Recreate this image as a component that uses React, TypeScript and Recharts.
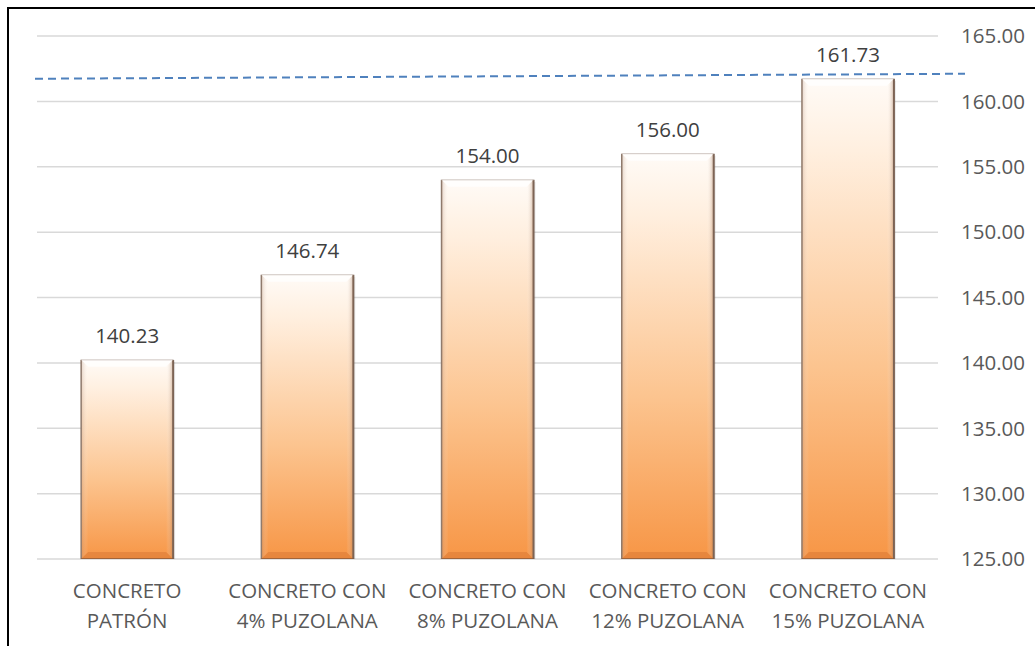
import { Bar, BarChart, CartesianGrid, LabelList, ReferenceLine, XAxis, YAxis } from "recharts";

const categories = [
  ["CONCRETO", "PATRÓN"],
  ["CONCRETO CON", "4% PUZOLANA"],
  ["CONCRETO CON", "8% PUZOLANA"],
  ["CONCRETO CON", "12% PUZOLANA"],
  ["CONCRETO CON", "15% PUZOLANA"],
];
const resistance = [140.23, 146.74, 154.0, 156.0, 161.73];
const yTicks = [125, 130, 135, 140, 145, 150, 155, 160, 165];
const referenceValue = 161.73;

const data = categories.map((lines, i) => ({
  name: lines.join(" "),
  lines,
  value: resistance[i],
}));

const FONT = "'Open Sans', 'Noto Sans', sans-serif";

function BevelBar(props: any) {
  const { x, y, width: w, height: h } = props;
  const b = 7;
  return (
    <g>
      <rect x={x + 2} y={y + 2} width={w} height={h} fill="#000" opacity={0.08} />
      <rect x={x} y={y} width={w} height={h} fill="url(#barFill)" />
      <polygon
        points={`${x},${y} ${x + w},${y} ${x + w - b},${y + b} ${x + b},${y + b}`}
        fill="#ffffff"
        opacity={0.75}
      />
      <polygon
        points={`${x},${y} ${x + b},${y + b} ${x + b},${y + h - b} ${x},${y + h}`}
        fill="url(#leftEdge)"
      />
      <polygon
        points={`${x + w},${y} ${x + w - b},${y + b} ${x + w - b},${y + h - b} ${x + w},${y + h}`}
        fill="url(#rightEdge)"
      />
      <polygon
        points={`${x},${y + h} ${x + b},${y + h - b} ${x + w - b},${y + h - b} ${x + w},${y + h}`}
        fill="#c8682a"
        opacity={0.35}
      />
      <line x1={x} y1={y} x2={x} y2={y + h} stroke="#8f7a6c" strokeWidth={1.5} />
      <line x1={x + w} y1={y} x2={x + w} y2={y + h} stroke="#7d6455" strokeWidth={2} />
      <line x1={x} y1={y + h} x2={x + w} y2={y + h} stroke="#8a5a3a" strokeWidth={1.5} />
      <line x1={x} y1={y} x2={x + w} y2={y} stroke="#cfc6c0" strokeWidth={1} />
    </g>
  );
}

function CategoryTick(props: any) {
  const { x, y, payload } = props;
  const lines = categories[payload.index] ?? [payload.value];
  return (
    <text x={x} y={y} textAnchor="middle" fill="#595959" fontSize={20.5} fontFamily={FONT}>
      {lines.map((line, i) => (
        <tspan key={i} x={x} dy={i === 0 ? 39 : 30}>
          {line}
        </tspan>
      ))}
    </text>
  );
}

function DashedRef(props: any) {
  const { x1, y1, x2, y2 } = props;
  const left = Math.min(x1, x2);
  const right = Math.max(x1, x2);
  const yy = (y1 + y2) / 2;
  return (
    <line
      x1={left - 2}
      y1={yy}
      x2={right + 27}
      y2={yy - 5}
      stroke="#4f81bd"
      strokeWidth={2}
      strokeDasharray="8 5"
    />
  );
}

export default function App() {
  return (
    <div style={{ position: "absolute", left: 0, top: 0, width: 1035, height: 646, background: "#fff", overflow: "hidden" }}>
      <div
        style={{
          position: "absolute",
          left: 7,
          top: 7,
          width: 1100,
          height: 700,
          borderLeft: "2px solid #000",
          borderTop: "2px solid #000",
        }}
      />
      <BarChart
        width={1035}
        height={646}
        data={data}
        margin={{ top: 36, right: 0, left: 37, bottom: 0 }}
        barCategoryGap="24.5%"
        style={{ position: "absolute", left: 0, top: 0 }}
      >
        <defs>
          <linearGradient id="barFill" x1="0" y1="0" x2="0" y2="1">
            <stop offset="0%" stopColor="#fffbf7" />
            <stop offset="15%" stopColor="#ffefdf" />
            <stop offset="60%" stopColor="#fcc48f" />
            <stop offset="100%" stopColor="#f79646" />
          </linearGradient>
          <linearGradient id="leftEdge" x1="0" y1="0" x2="1" y2="0">
            <stop offset="0%" stopColor="#b08870" stopOpacity={0.35} />
            <stop offset="100%" stopColor="#ffffff" stopOpacity={0} />
          </linearGradient>
          <linearGradient id="rightEdge" x1="1" y1="0" x2="0" y2="0">
            <stop offset="0%" stopColor="#a07050" stopOpacity={0.45} />
            <stop offset="100%" stopColor="#ffffff" stopOpacity={0} />
          </linearGradient>
        </defs>
        <CartesianGrid vertical={false} stroke="#d9d9d9" strokeWidth={1.5} />
        <XAxis
          dataKey="name"
          axisLine={false}
          tickLine={false}
          tickSize={0}
          tickMargin={0}
          height={87}
          interval={0}
          tick={<CategoryTick />}
        />
        <YAxis
          orientation="right"
          domain={[125, 165]}
          ticks={yTicks}
          allowDataOverflow
          axisLine={false}
          tickLine={false}
          tickSize={0}
          tickMargin={23}
          width={97}
          tickFormatter={(v: number) => v.toFixed(2)}
          tick={{ fill: "#595959", fontSize: 20.5, fontFamily: FONT }}
        />
        <Bar dataKey="value" shape={<BevelBar />} isAnimationActive={false}>
          <LabelList
            dataKey="value"
            position="top"
            offset={17}
            formatter={(v: any) => Number(v).toFixed(2)}
            fill="#404040"
            fontSize={20.5}
            fontFamily={FONT}
          />
        </Bar>
        <ReferenceLine y={referenceValue} ifOverflow="visible" shape={<DashedRef />} />
      </BarChart>
    </div>
  );
}
